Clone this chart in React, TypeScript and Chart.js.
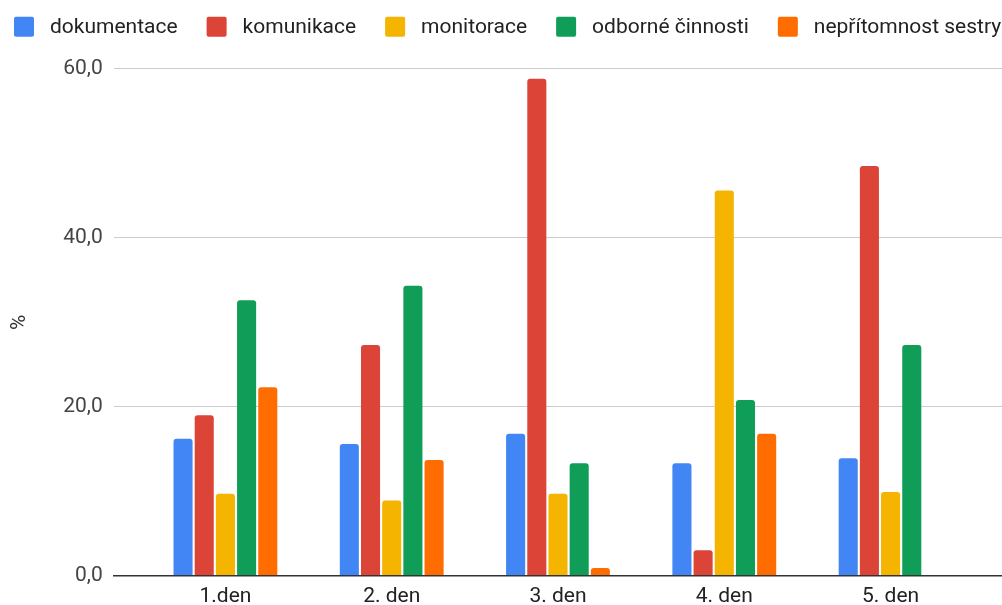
import React, { useEffect, useRef } from "react";
import { Chart, registerables } from "chart.js";

Chart.register(...registerables);

// Days of observation
const categories = ["1.den", "2. den", "3. den", "4. den", "5. den"];

// Share of time per activity (%)
const dokumentace = [16.2, 15.6, 16.8, 13.3, 13.9];
const komunikace = [19.0, 27.3, 58.8, 3.0, 48.5];
const monitorace = [9.7, 8.9, 9.7, 45.6, 9.9];
const odborneCinnosti = [32.6, 34.3, 13.3, 20.8, 27.3];
const nepritomnostSestry = [22.3, 13.7, 0.9, 16.8, null];

const seriesNames = [
  "dokumentace",
  "komunikace",
  "monitorace",
  "odborné činnosti",
  "nepřítomnost sestry",
];
const seriesValues = [
  dokumentace,
  komunikace,
  monitorace,
  odborneCinnosti,
  nepritomnostSestry,
];
const seriesColors = ["#4285F4", "#DB4437", "#F4B400", "#0F9D58", "#FF6D01"];

const yTicks = [0, 20, 40, 60];

const FONT = "Roboto";

// Horizontal legend drawn across the top of the canvas
const topLegend = {
  id: "topLegend",
  afterDraw(chart: any) {
    const ctx = chart.ctx as CanvasRenderingContext2D;
    ctx.save();
    ctx.font = `21px ${FONT}`;
    ctx.textBaseline = "alphabetic";
    ctx.textAlign = "left";
    let x = 14;
    chart.data.datasets.forEach((ds: any) => {
      ctx.fillStyle = ds.backgroundColor;
      ctx.beginPath();
      (ctx as any).roundRect(x, 16.7, 20, 20, 2);
      ctx.fill();
      ctx.fillStyle = "#222222";
      ctx.fillText(ds.label, x + 36, 32.5);
      x += 36 + ctx.measureText(ds.label).width + 29;
    });
    ctx.restore();
  },
};

export default function App() {
  const canvasRef = useRef<HTMLCanvasElement | null>(null);

  useEffect(() => {
    const canvas = canvasRef.current;
    if (!canvas) return;

    const datasets = seriesNames.map((name, s) => ({
      label: name,
      data: categories
        .map((_, i) => ({ x: i, y: seriesValues[s][i] }))
        .filter((p) => p.y !== null),
      backgroundColor: seriesColors[s],
      borderWidth: 0,
      borderRadius: 3,
      categoryPercentage: 0.637,
      barPercentage: 0.9,
    }));

    const chart = new Chart(canvas, {
      type: "bar",
      data: { datasets },
      plugins: [topLegend],
      options: {
        responsive: false,
        animation: false,
        devicePixelRatio: 1,
        layout: { padding: { top: 68.7, left: 0, right: 0, bottom: 0 } },
        plugins: {
          legend: { display: false },
          tooltip: { enabled: false },
        },
        scales: {
          x: {
            type: "linear",
            offset: false,
            min: -0.67,
            max: categories.length - 1 + 0.67,
            afterBuildTicks: (scale: any) => {
              scale.ticks = categories.map((_, i) => ({ value: i }));
            },
            afterFit: (scale: any) => {
              scale.height = 29.3;
            },
            grid: { display: false, drawTicks: false, offset: false },
            border: { display: true, color: "#333333", width: 1.5, z: 1 },
            ticks: {
              autoSkip: false,
              maxRotation: 0,
              padding: 8,
              color: "#222222",
              font: { family: FONT, size: 21 },
              callback: (v: any) => categories[v as number] ?? "",
            },
          },
          y: {
            min: 0,
            max: 60,
            afterBuildTicks: (scale: any) => {
              scale.ticks = yTicks.map((v) => ({ value: v }));
            },
            afterFit: (scale: any) => {
              scale.width = 114;
            },
            grid: { color: "#cccccc", lineWidth: 1, drawTicks: false },
            border: { display: false },
            ticks: {
              padding: 11.3,
              color: "#444444",
              font: { family: FONT, size: 21 },
              callback: (v: any) => Number(v).toFixed(1).replace(".", ","),
            },
            title: {
              display: true,
              text: "%",
              color: "#333333",
              font: { family: FONT, size: 21 },
              padding: { top: 7, bottom: 0 },
            },
          },
        },
      },
    } as any);

    return () => chart.destroy();
  }, []);

  return (
    <div
      style={{
        position: "absolute",
        left: 0,
        top: 0,
        width: 1002,
        height: 605,
        overflow: "hidden",
        background: "#ffffff",
      }}
    >
      <canvas
        ref={canvasRef}
        width={1002}
        height={605}
        style={{ display: "block", width: 1002, height: 605 }}
      />
    </div>
  );
}
